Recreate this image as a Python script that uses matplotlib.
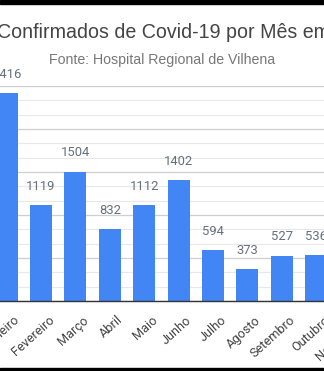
import matplotlib.pyplot as plt
import matplotlib.transforms as mtransforms
from matplotlib.patches import Rectangle

meses = ["Janeiro", "Fevereiro", "Março", "Abril", "Maio", "Junho",
         "Julho", "Agosto", "Setembro", "Outubro", "Novembro"]
casos = [2416, 1119, 1504, 832, 1112, 1402, 594, 373, 527, 536, 700]

titulo = "Confirmados de Covid-19 por Mês em Vilhena"
fonte = "Fonte: Hospital Regional de Vilhena"

azul = "#4285f4"
cinza_label = "#66707c"

fig = plt.figure(figsize=(3.24, 3.71), dpi=100)
fig.patch.set_facecolor("white")

ax = fig.add_axes([0, 70 / 371, 1, 215 / 371])
x = list(range(len(meses)))
ax.bar(x, casos, width=0.64, color=azul, zorder=3)

# grade principal a cada 500, secundaria a cada 500/3
ax.set_xticks([])
ax.set_yticks(range(0, 2501, 500))
ax.set_yticks([v * 500 / 3 for v in range(16)], minor=True)
ax.set_xlim(-0.192, 9.227)
ax.set_ylim(0, 2500)
ax.grid(axis="y", which="major", color="#cfcfcf", lw=0.9, zorder=0)
ax.grid(axis="y", which="minor", color="#e8e8e8", lw=0.8, zorder=0)
ax.tick_params(axis="y", which="both", left=False, labelleft=False)
for s in ["left", "right", "top"]:
    ax.spines[s].set_visible(False)
ax.spines["bottom"].set_color("#333333")
ax.spines["bottom"].set_linewidth(1.0)
ax.spines["bottom"].set_zorder(4)

# nomes dos meses inclinados (texto livre para o ultimo mes aparecer mesmo fora do xlim)
base = mtransforms.blended_transform_factory(ax.transData, ax.transAxes)
desloc = mtransforms.ScaledTranslation(7 / 100, -12.5 / 100, fig.dpi_scale_trans)
for xi, nome in zip(x, meses):
    ax.text(xi, 0, nome, transform=base + desloc, rotation=42, ha="right",
            va="top", rotation_mode="anchor", fontsize=9.2, color="#444444",
            family="Roboto", clip_on=False)

# rotulos de valor acima das barras
for xi, v in zip(x, casos[:-1]):
    ax.annotate(str(v), (xi, v), xytext=(0, 13.5), textcoords="offset points",
                ha="center", va="center", fontsize=9.4, color=cinza_label,
                family="Roboto", zorder=5)

fig.text(-0.01, 1 - 32 / 371, titulo, ha="left", va="center",
         fontsize=14.1, color="#444444", family="Liberation Sans")
fig.text(0.5, 1 - 60 / 371, fonte, ha="center", va="center",
         fontsize=10.2, color="#777777", family="Liberation Sans")

# faixas pretas nas bordas
fig.patches.append(Rectangle((0, 1 - 4 / 371), 1, 4 / 371, transform=fig.transFigure,
                             color="black", zorder=10))
fig.patches.append(Rectangle((0, 0), 1, 3.5 / 371, transform=fig.transFigure,
                             color="black", zorder=10))

fig.savefig("out.png", dpi=100)
